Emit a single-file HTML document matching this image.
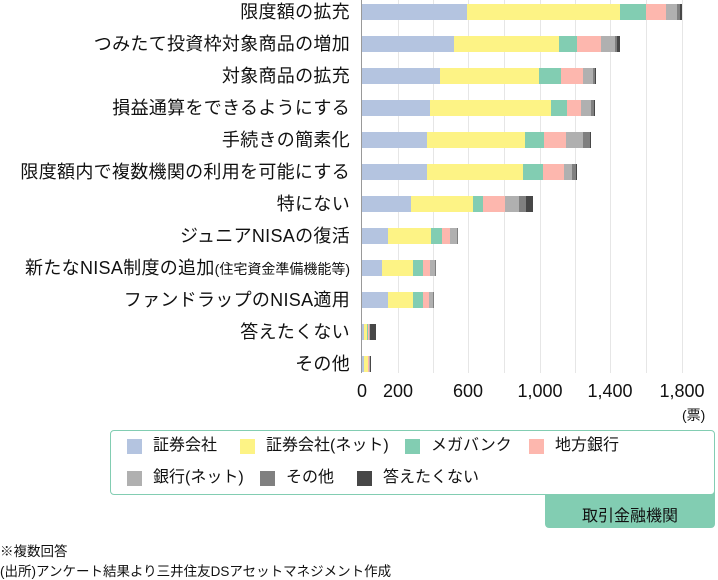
<!DOCTYPE html>
<html><head><meta charset="utf-8"><style>
body{margin:0;width:718px;height:578px;background:#fff;font-family:"Liberation Sans","Noto Sans CJK JP",sans-serif;color:#111;position:relative;overflow:hidden}
.a{position:absolute}
.lab{position:absolute;right:368px;font-size:18px;letter-spacing:0.3px;white-space:nowrap;line-height:20px}
.g{position:absolute;top:0;width:1px;height:373px;background:#e6e6e6}
.s{position:absolute;height:16px}
.t{position:absolute;top:381px;font-size:18px;transform:translateX(-50%)}
.sw{position:absolute;width:15px;height:15px}
.lt{position:absolute;font-size:16px;line-height:18px}
</style></head><body>
<div class="g" style="left:398px"></div><div class="g" style="left:433px"></div><div class="g" style="left:468px"></div><div class="g" style="left:504px"></div><div class="g" style="left:540px"></div><div class="g" style="left:575px"></div><div class="g" style="left:610px"></div><div class="g" style="left:646px"></div><div class="g" style="left:682px"></div>
<div class="a" style="left:361px;top:0;width:1px;height:373px;background:#999"></div>
<div id="bars"></div>
<div class="lab" style="top:2px">限度額の拡充</div>
<div class="lab" style="top:34px">つみたて投資枠対象商品の増加</div>
<div class="lab" style="top:66px">対象商品の拡充</div>
<div class="lab" style="top:98px">損益通算をできるようにする</div>
<div class="lab" style="top:130px">手続きの簡素化</div>
<div class="lab" style="top:162px">限度額内で複数機関の利用を可能にする</div>
<div class="lab" style="top:194px">特にない</div>
<div class="lab" style="top:226px">ジュニアNISAの復活</div>
<div class="lab" style="top:258px">新たなNISA制度の追加<span style="font-size:14px;letter-spacing:0">(住宅資金準備機能等)</span></div>
<div class="lab" style="top:290px">ファンドラップのNISA適用</div>
<div class="lab" style="top:322px">答えたくない</div>
<div class="lab" style="top:354px">その他</div>
<div class="t" style="left:362px">0</div><div class="t" style="left:398px">200</div><div class="t" style="left:468px">600</div><div class="t" style="left:540px">1,000</div><div class="t" style="left:610px">1,400</div><div class="t" style="left:682px">1,800</div>
<div class="a" style="left:682px;top:405px;font-size:14px">(票)</div>
<div class="a" style="left:545px;top:488px;width:170px;height:40px;background:#82cdb2;border-radius:0 0 4px 4px"></div>
<div class="a" style="left:545px;top:502px;width:170px;text-align:center;font-size:16px">取引金融機関</div>
<div class="a" style="left:110px;top:430px;width:603px;height:63px;border:1px solid #82cdb2;border-radius:4px;background:#fff"></div>
<div class="sw" style="left:127px;top:439px;background:#b4c4e0"></div><div class="lt" style="left:153px;top:437px">証券会社</div>
<div class="sw" style="left:240px;top:439px;background:#fdf385"></div><div class="lt" style="left:266px;top:437px">証券会社(ネット)</div>
<div class="sw" style="left:405px;top:439px;background:#82cdb2"></div><div class="lt" style="left:431px;top:437px">メガバンク</div>
<div class="sw" style="left:529px;top:439px;background:#fdb7ae"></div><div class="lt" style="left:555px;top:437px">地方銀行</div>
<div class="sw" style="left:127px;top:471px;background:#b0b0b0"></div><div class="lt" style="left:153px;top:469px">銀行(ネット)</div>
<div class="sw" style="left:260px;top:471px;background:#808080"></div><div class="lt" style="left:286px;top:469px">その他</div>
<div class="sw" style="left:357px;top:471px;background:#474747"></div><div class="lt" style="left:383px;top:469px">答えたくない</div>
<div class="a" style="left:0px;top:540px;font-size:13.5px">※複数回答</div>
<div class="a" style="left:0px;top:560px;font-size:13.5px">(出所)アンケート結果より三井住友DSアセットマネジメント作成</div>
<script>
var C=["#b4c4e0","#fdf385","#82cdb2","#fdb7ae","#b0b0b0","#808080","#474747"];
var R=[[467,620,646,666,677,680,682],[454,559,577,601,615,617,620],[440,539,561,583,593,595,596],[430,551,567,581,591,594,595],[427,525,544,566,583,590,591],[427,523,543,564,572,576,577],[411,473,483,505,519,526,533],[388,431,442,450,457,458,458],[382,413,423,430,435,436,436],[388,413,423,429,433,434,434],[364,367,368,369,370,370,376],[364,368,368,369,370,370,371]];
var h="";R.forEach(function(r,i){var x=362,y=4+32*i;r.forEach(function(e,j){if(e>x){h+='<div class="s" style="left:'+x+'px;top:'+y+'px;width:'+(e-x)+'px;background:'+C[j]+'"></div>';x=e;}});});
document.getElementById("bars").innerHTML=h;
</script>
</body></html>
